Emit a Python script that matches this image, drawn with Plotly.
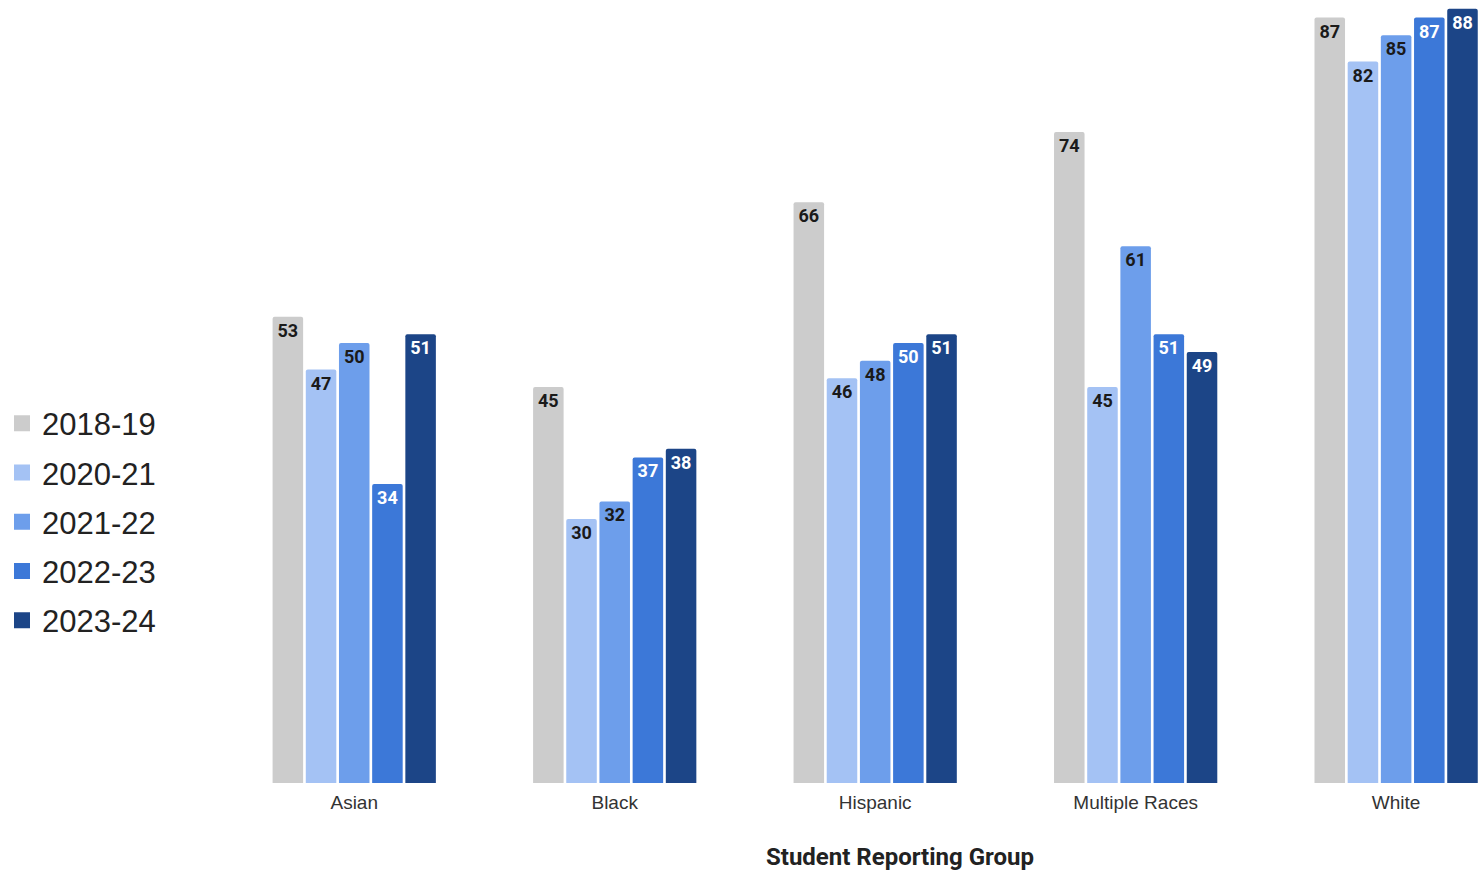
import plotly.graph_objects as go

categories = ["Asian", "Black", "Hispanic", "Multiple Races", "White"]
years = ["2018-19", "2020-21", "2021-22", "2022-23", "2023-24"]
v_2018_19 = [53, 45, 66, 74, 87]
v_2020_21 = [47, 30, 46, 45, 82]
v_2021_22 = [50, 32, 48, 61, 85]
v_2022_23 = [34, 37, 50, 51, 87]
v_2023_24 = [51, 38, 51, 49, 88]
series = [v_2018_19, v_2020_21, v_2021_22, v_2022_23, v_2023_24]

colors = ["#cccccc", "#a4c2f4", "#6d9eeb", "#3c78d8", "#1c4587"]
label_colors = ["#1a1a1a", "#1a1a1a", "#1a1a1a", "#ffffff", "#ffffff"]

fig = go.Figure()
for name, vals, c, lc in zip(years, series, colors, label_colors):
    fig.add_trace(go.Bar(
        x=categories, y=vals, name=name, legendgroup=name, showlegend=False,
        marker=dict(color=c, cornerradius=2, line=dict(width=0)),
        text=[str(v) for v in vals], textposition="inside",
        insidetextanchor="end", textangle=0,
        textfont=dict(family="Roboto", size=18, color=lc, weight="bold"),
        constraintext="none", cliponaxis=False,
    ))
# legend entries with larger square swatches
for name, c in zip(years, colors):
    fig.add_trace(go.Scatter(
        x=[None], y=[None], mode="markers", name=name, legendgroup=name,
        marker=dict(symbol="square", size=18, color=c), showlegend=True,
    ))

L, R, T, B = 224, 0, 0, 87
W, H = 1480, 870
pw = W - L - R
ph = H - T - B

fig.update_layout(
    width=W, height=H,
    margin=dict(l=L, r=R, t=T, b=B, pad=0, autoexpand=False),
    barmode="group", bargap=0.363, bargroupgap=0.08,
    plot_bgcolor="white", paper_bgcolor="white",
    font=dict(family="Liberation Sans", color="#333333"),
    legend=dict(
        x=(2 - L) / pw, xanchor="left", y=(783 - 522) / ph, yanchor="middle",
        font=dict(family="Liberation Sans", size=31, color="#222222"),
        tracegroupgap=6, bgcolor="rgba(0,0,0,0)",
    ),
    uniformtext=dict(mode=False),
    xaxis=dict(
        type="category", range=[-0.5, 4.322], showgrid=False, showline=False,
        ticks="", ticklabelstandoff=6,
        tickfont=dict(family="Liberation Sans", size=19, color="#333333"),
    ),
    yaxis=dict(
        range=[0, 89.0], visible=False, showgrid=False, zeroline=False,
    ),
    annotations=[dict(
        text="<b>Student Reporting Group</b>", xref="paper", yref="paper",
        x=(900 - L) / pw, y=(783 - 857) / ph, xanchor="center", yanchor="middle",
        showarrow=False,
        font=dict(family="Roboto", size=24, color="#222222"),
    )],
)

fig.write_html(
    "out.html",
    config={"displayModeBar": False},
    post_script="document.body.style.margin='0';document.body.style.overflow='hidden';",
)
